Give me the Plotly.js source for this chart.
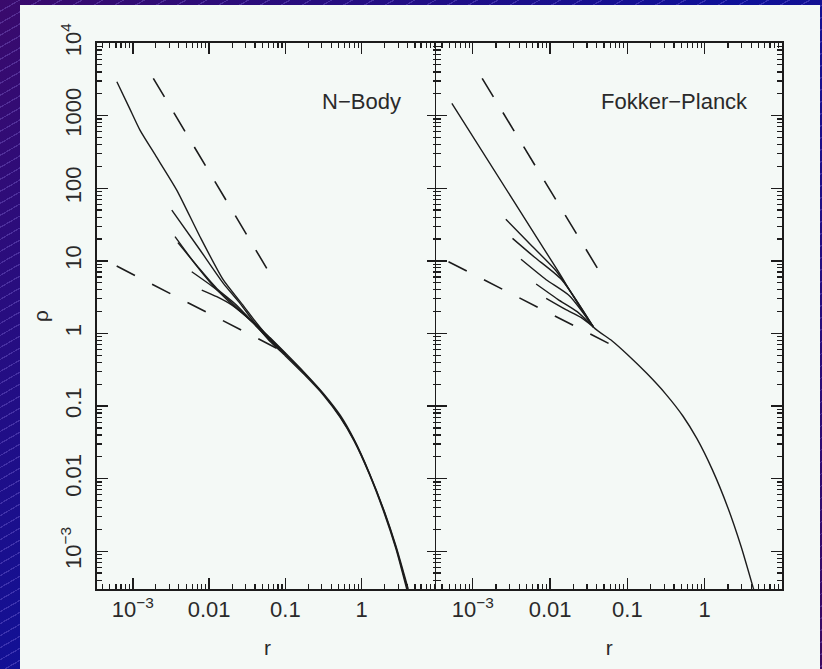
<!DOCTYPE html>
<html>
<head>
<meta charset="utf-8">
<script src="https://cdn.plot.ly/plotly-3.0.1.min.js"></script>
<style>
  html, body { margin: 0; padding: 0; }
  body {
    width: 822px; height: 669px; overflow: hidden; position: relative;
    background:
      repeating-linear-gradient(150deg, rgba(0,0,0,0) 0px, rgba(0,0,0,0) 9.2px, rgba(170,150,255,0.25) 9.2px, rgba(170,150,255,0.25) 10.4px),
      linear-gradient(135deg, #3a0a6c 0%, #0e1199 50%, #3b0860 100%);
  }
  #box { position: absolute; left: 20px; top: 5px; width: 800px; height: 664px; background: #f4f9f6; }
</style>
</head>
<body>
<div id="box"></div>
<script>
// ---------------- data ----------------
// Left panel: N-Body
const nbLongR   = [6.17e-4, 9.0e-4, 1.24e-3, 2.0e-3, 3.76e-3, 7.59e-3, 0.01535, 0.0282, 0.0421, 0.0631, 0.1, 0.178, 0.316, 0.521, 0.794, 1.259, 1.995, 2.818, 3.98];
const nbLongRho = [2930, 1280, 631, 279, 94.4, 21.5, 5.45, 2.40, 1.38, 0.832, 0.513, 0.282, 0.145, 0.0713, 0.0339, 0.01175, 0.00339, 0.00112, 0.000302];

const nbAR   = [3.24e-3, 7.60e-3, 0.01535, 0.0254, 0.0400, 0.0631, 0.1, 0.178, 0.316, 0.525, 0.794, 1.259, 1.995, 2.818, 4.07];
const nbARho = [50.1, 14.1, 4.90, 2.60, 1.38, 0.871, 0.537, 0.288, 0.148, 0.0741, 0.0347, 0.0120, 0.00347, 0.00117, 0.000302];

const nbBR   = [3.57e-3, 6.31e-3, 0.01122, 0.01995, 0.0380, 0.0631, 0.1, 0.178, 0.316, 0.525, 0.794, 1.259, 1.995, 2.818, 3.89];
const nbBRho = [21.5, 9.55, 4.57, 2.51, 1.41, 0.776, 0.490, 0.269, 0.141, 0.0692, 0.0331, 0.0115, 0.00324, 0.00107, 0.000302];

const nbCR   = [3.89e-3, 7.08e-3, 0.01259, 0.0224, 0.0380, 0.0631, 0.1];
const nbCRho = [17.8, 8.32, 4.17, 2.51, 1.41, 0.813, 0.513];

const nbDR   = [5.92e-3, 0.01, 0.01778, 0.0355, 0.0631, 0.1];
const nbDRho = [7.08, 4.79, 2.95, 1.48, 0.851, 0.525];

const nbER   = [8.0e-3, 0.01259, 0.01995, 0.0355, 0.0631];
const nbERho = [3.96, 3.21, 2.45, 1.48, 0.794];

const nbSteepR = [1.854e-3, 0.0569];
const nbSteepRho = [3266, 7.89];
const nbShallowR = [6.14e-4, 0.0771];
const nbShallowRho = [8.47, 0.624];

// Right panel: Fokker-Planck
const fpLongR   = [5.37e-4, 3.16e-3, 0.01259, 0.0363, 0.0631, 0.1, 0.178, 0.316, 0.525, 0.794, 1.259, 1.995, 2.951, 4.365];
const fpLongRho = [1479, 74.8, 7.31, 1.23, 0.794, 0.513, 0.282, 0.145, 0.0724, 0.0355, 0.0132, 0.00398, 0.00117, 0.000282];

const fp1R = [2.68e-3, 5.62e-3, 0.01202, 0.0363];  const fp1Rho = [37.3, 16.6, 7.24, 1.23];
const fp2R = [3.27e-3, 6.31e-3, 0.01413, 0.0363];  const fp2Rho = [20.4, 11.2, 5.50, 1.23];
const fp3R = [4.21e-3, 8.91e-3, 0.01778, 0.0363];  const fp3Rho = [10.5, 5.50, 3.31, 1.23];
const fp4R = [6.61e-3, 0.01259, 0.0224, 0.0363];   const fp4Rho = [4.79, 2.95, 2.0, 1.23];
const fp5R = [8.91e-3, 0.01585, 0.0251, 0.0363];   const fp5Rho = [3.04, 2.14, 1.66, 1.23];

const fpSteepR = [1.324e-3, 0.0411];
const fpSteepRho = [3266, 7.89];
const fpShallowR = [4.86e-4, 0.0603];
const fpShallowRho = [9.73, 0.708];

// ticks & labels
const xTickVals = [1e-3, 1e-2, 0.1, 1];
const xTickText = ['10<sup>\u22123</sup>', '0.01', '0.1', '1'];
const yTickVals = [1e-3, 0.01, 0.1, 1, 10, 100, 1000, 1e4];
const yTickText = ['10<sup>\u22123</sup>', '0.01', '0.1', '1', '10', '100', '1000', '10<sup>4</sup>'];
const panelNames = ['N\u2212Body', 'Fokker\u2212Planck'];

// ---------------- styling ----------------
const ink = '#1c1c1c';
const solid = {color: ink, width: 1.4, shape: 'spline', smoothing: 0.6};
const steepDash = {color: ink, width: 1.6, dash: '21.7px,18.3px'};
const shallowDash = {color: ink, width: 1.6, dash: '20.5px,19.3px'};

function tr(x, y, line, ax) {
  return {x: x, y: y, type: 'scatter', mode: 'lines', line: line,
          xaxis: ax === 2 ? 'x2' : 'x', yaxis: ax === 2 ? 'y2' : 'y',
          hoverinfo: 'skip', showlegend: false};
}

const traces = [
  tr(nbLongR, nbLongRho, solid, 1),
  tr(nbAR, nbARho, solid, 1),
  tr(nbBR, nbBRho, solid, 1),
  tr(nbCR, nbCRho, solid, 1),
  tr(nbDR, nbDRho, solid, 1),
  tr(nbER, nbERho, solid, 1),
  tr(nbSteepR, nbSteepRho, steepDash, 1),
  tr(nbShallowR, nbShallowRho, shallowDash, 1),
  tr(fpLongR, fpLongRho, solid, 2),
  tr(fp1R, fp1Rho, solid, 2),
  tr(fp2R, fp2Rho, solid, 2),
  tr(fp3R, fp3Rho, solid, 2),
  tr(fp4R, fp4Rho, solid, 2),
  tr(fp5R, fp5Rho, solid, 2),
  tr(fpSteepR, fpSteepRho, steepDash, 2),
  tr(fpShallowR, fpShallowRho, shallowDash, 2)
];

const fam = 'Liberation Sans, Arial, sans-serif';
const tickFont = {family: fam, size: 22, color: '#2a2a2a'};
const lw = 1.6;
const split = 0.4978;
const split2 = split - lw / 685;

function xAxis(domain, anchor) {
  return {
    type: 'log', range: [-3.47, 1.0], domain: domain, anchor: anchor,
    showline: true, linecolor: ink, linewidth: lw, mirror: 'ticks',
    ticks: 'inside', ticklen: 11, tickwidth: 1.4, tickcolor: ink,
    tickmode: 'array', tickvals: xTickVals, ticktext: xTickText,
    tickfont: tickFont, showgrid: false, zeroline: false,
    minor: {ticks: 'inside', ticklen: 5, tickwidth: 1.2, tickcolor: ink, dtick: 'D1', showgrid: false},
    title: {text: 'r', font: {family: fam, size: 21, color: '#2a2a2a'}, standoff: 19}
  };
}
function yAxis(showLabels, anchor) {
  const a = {
    type: 'log', range: [-3.52, 4.0005], domain: [0, 1], anchor: anchor,
    showline: true, linecolor: ink, linewidth: lw, mirror: 'ticks',
    ticks: 'inside', ticklen: 11, tickwidth: 1.4, tickcolor: ink,
    tickmode: 'array', tickvals: yTickVals, ticktext: yTickText,
    showticklabels: showLabels, tickangle: -90, ticklabelstandoff: 6,
    tickfont: tickFont, showgrid: false, zeroline: false,
    minor: {ticks: 'inside', ticklen: 5, tickwidth: 1.2, tickcolor: ink, dtick: 'D1', showgrid: false}
  };
  if (showLabels) {
    a.title = {text: '\u03c1', font: {family: fam, size: 21, color: '#2a2a2a'}, standoff: 3};
  }
  return a;
}

const layout = {
  width: 800, height: 664,
  margin: {l: 77, r: 38, t: 38, b: 80},
  paper_bgcolor: '#f4f9f6', plot_bgcolor: '#f4f9f6',
  showlegend: false,
  xaxis: xAxis([0, split], 'y'),
  yaxis: yAxis(true, 'x'),
  xaxis2: xAxis([split2, 1], 'y2'),
  yaxis2: yAxis(false, 'x2'),
  annotations: [
    {text: panelNames[0], xref: 'paper', yref: 'paper', x: 0.4467, y: 0.892, xanchor: 'right', yanchor: 'middle',
     showarrow: false, font: {family: fam, size: 22, color: '#2a2a2a'}},
    {text: panelNames[1], xref: 'paper', yref: 'paper', x: 0.953, y: 0.892, xanchor: 'right', yanchor: 'middle',
     showarrow: false, font: {family: fam, size: 22, color: '#2a2a2a'}}
  ]
};

Plotly.newPlot('box', traces, layout, {staticPlot: true, displayModeBar: false});
</script>
</body>
</html>
